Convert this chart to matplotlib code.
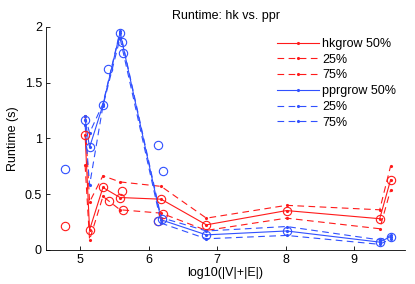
import matplotlib
matplotlib.use("Agg")
import matplotlib.pyplot as plt

# x positions: log10(|V|+|E|)
x = [5.07, 5.135, 5.33, 5.58, 6.18, 6.84, 8.01, 9.37, 9.53]

# hkgrow runtimes
hk_50 = [1.03, 0.18, 0.56, 0.47, 0.455, 0.225, 0.353, 0.28, 0.63]
hk_25 = [0.76, 0.09, 0.48, 0.36, 0.33, 0.175, 0.285, 0.19, 0.54]
hk_75 = [1.20, 0.43, 0.665, 0.61, 0.57, 0.285, 0.40, 0.36, 0.755]

# pprgrow runtimes
ppr_50 = [1.17, 0.92, 1.30, 1.95, 0.27, 0.135, 0.17, 0.07, 0.12]
ppr_25 = [1.12, 0.58, 1.29, 1.90, 0.24, 0.10, 0.13, 0.05, 0.10]
ppr_75 = [1.20, 1.05, 1.31, 1.96, 0.29, 0.17, 0.21, 0.09, 0.13]

# individual graph runtimes (circles)
hk_pts_x = [4.78, 5.07, 5.135, 5.33, 5.42, 5.58, 5.61, 5.62, 6.14, 6.18, 6.21, 6.84, 8.01, 9.37, 9.53]
hk_pts_y = [0.215, 1.03, 0.18, 0.56, 0.44, 0.47, 0.53, 0.355, 0.26, 0.455, 0.32, 0.225, 0.353, 0.28, 0.63]
ppr_pts_x = [4.78, 5.07, 5.135, 5.33, 5.41, 5.58, 5.61, 5.62, 6.14, 6.21, 6.14, 6.19, 6.84, 8.01, 9.37, 9.53]
ppr_pts_y = [0.725, 1.17, 0.92, 1.30, 1.62, 1.95, 1.865, 1.765, 0.945, 0.71, 0.26, 0.275, 0.135, 0.17, 0.07, 0.12]

red = "#ff1a1a"
blue = "#3050ff"

plt.rcParams['font.family'] = ['Liberation Sans', 'DejaVu Sans']
plt.rcParams['font.size'] = 9

fig = plt.figure(figsize=(4.15, 2.84), dpi=100)
ax = fig.add_axes([0.111, 0.12, 0.865, 0.785])

dash = (0, (6, 4))
lw = 0.8
ms = 2.5

ax.plot(x, hk_50, '-', color=red, lw=lw, marker='.', ms=ms, label='hkgrow 50%')
ax.plot(x, hk_25, linestyle=dash, color=red, lw=lw, marker='.', ms=ms, label='25%')
ax.plot(x, hk_75, linestyle=dash, color=red, lw=lw, marker='.', ms=ms, label='75%')
ax.plot(x, ppr_50, '-', color=blue, lw=lw, marker='.', ms=ms, label='pprgrow 50%')
ax.plot(x, ppr_25, linestyle=dash, color=blue, lw=lw, marker='.', ms=ms, label='25%')
ax.plot(x, ppr_75, linestyle=dash, color=blue, lw=lw, marker='.', ms=ms, label='75%')

ax.plot(hk_pts_x, hk_pts_y, 'o', mfc='none', mec=red, mew=0.8, ms=6)
ax.plot(ppr_pts_x, ppr_pts_y, 'o', mfc='none', mec=blue, mew=0.8, ms=6)

ax.set_xlim(4.5, 9.74)
ax.set_ylim(0, 2)
ax.set_xticks([5, 6, 7, 8, 9])
ax.set_yticks([0, 0.5, 1, 1.5, 2])
ax.set_yticklabels(['0', '0.5', '1', '1.5', '2'])
ax.tick_params(direction='in', length=3, width=0.6, pad=3)
ax.spines['top'].set_visible(False)
ax.spines['right'].set_visible(False)
for s in ['left', 'bottom']:
    ax.spines[s].set_linewidth(0.6)

ax.set_title('Runtime: hk vs. ppr', fontsize=9, pad=6)
ax.set_xlabel('log10(|V|+|E|)', labelpad=1)
ax.set_ylabel('Runtime (s)', labelpad=4)

ax.legend(loc='upper right', bbox_to_anchor=(1.0, 0.99), frameon=False,
          handlelength=3.3, handletextpad=0.3, labelspacing=0.3, borderpad=0.2)

fig.savefig('out.png', dpi=100)
